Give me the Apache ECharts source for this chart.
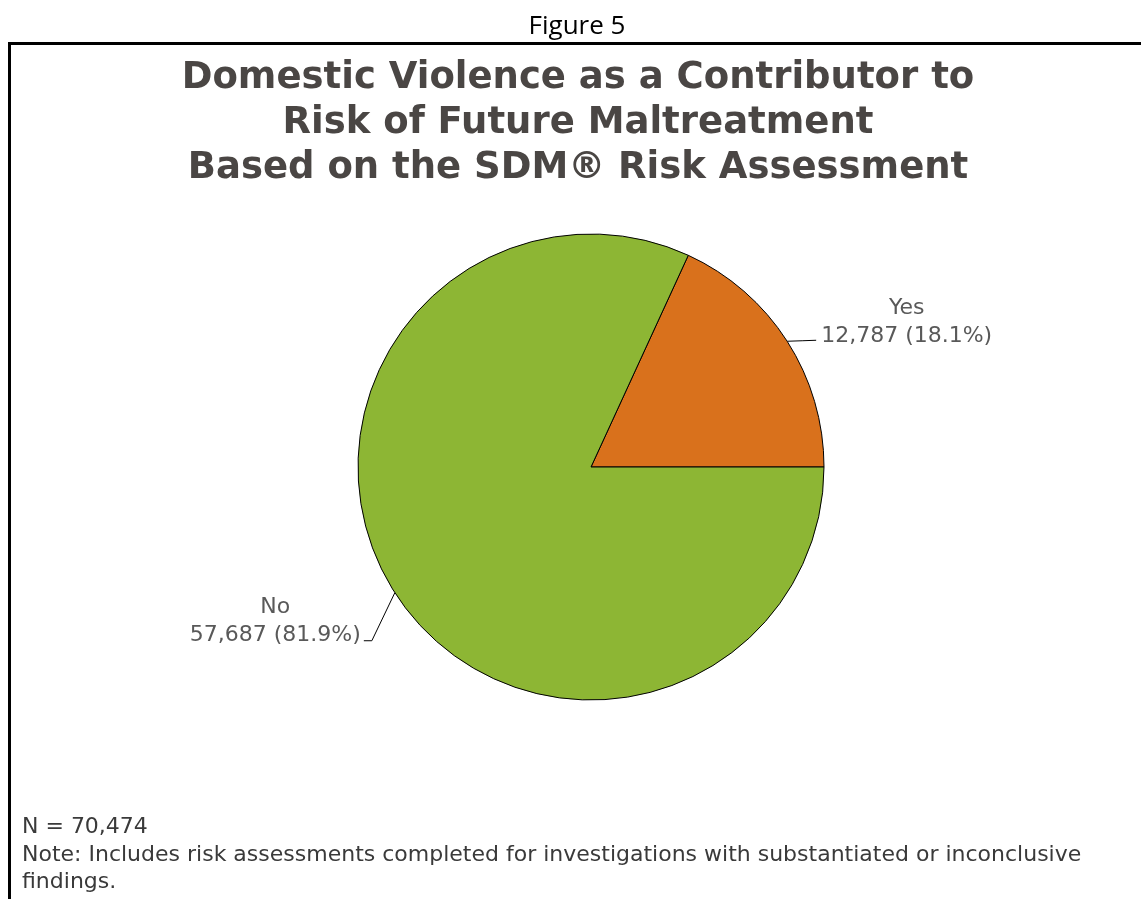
<!DOCTYPE html>
<html><head><meta charset="utf-8">
<script src="https://cdn.jsdelivr.net/npm/echarts@6/dist/echarts.min.js"></script>
<style>html,body{margin:0;padding:0;background:#fff}#c{width:1141px;height:899px}</style>
</head><body><div id="c"></div>
<script>
const categories = ['Yes', 'No'];
const counts = [12787, 57687];
const percents = ['18.1%', '81.9%'];
const colors = ['#D9711C', '#8DB634'];
const totalN = '70,474';

const FONT = "'DejaVu Sans', Verdana, sans-serif";
const chart = echarts.init(document.getElementById('c'), null, {renderer: 'canvas'});
const fmt = n => n.toLocaleString('en-US');

const data = categories.map((c, i) => ({
  name: c, value: counts[i], itemStyle: {color: colors[i]}
}));

chart.setOption({
  animation: false,
  backgroundColor: '#fff',
  title: [{
    text: 'Figure 5', left: 577, top: 14, textAlign: 'center', padding: 0,
    textStyle: {fontFamily: 'Open Sans', fontSize: 26, fontWeight: 'normal', color: '#000'}
  }, {
    text: 'Domestic Violence as a Contributor to\nRisk of Future Maltreatment\nBased on the SDM® Risk Assessment',
    left: 578, top: 56, textAlign: 'center', padding: 0,
    textStyle: {fontFamily: FONT, fontSize: 37, fontWeight: 'bold', color: '#4a4644', lineHeight: 45}
  }],
  graphic: [
    {type: 'line', shape: {x1: 8, y1: 43.5, x2: 1141, y2: 43.5}, style: {stroke: '#000', lineWidth: 3}},
    {type: 'line', shape: {x1: 9.5, y1: 42, x2: 9.5, y2: 899}, style: {stroke: '#000', lineWidth: 3}},
    {type: 'text', left: 22, top: 814, style: {
      text: 'N = ' + totalN + '\nNote: Includes risk assessments completed for investigations with substantiated or inconclusive\nfindings.',
      fontFamily: FONT, fontSize: 22, lineHeight: 27.5, fill: '#3a3a3a'
    }}
  ],
  series: [{
    type: 'pie',
    center: [591, 467],
    radius: 233,
    startAngle: 0,
    clockwise: false,
    data: data,
    itemStyle: {borderColor: '#000', borderWidth: 1},
    label: {
      show: true, position: 'outside',
      formatter: p => p.name + '\n' + fmt(p.value) + ' (' + percents[p.dataIndex] + ')',
      fontFamily: FONT, fontSize: 22, lineHeight: 28, color: '#595959',
      align: 'center'
    },
    labelLine: {show: true, lineStyle: {color: '#000', width: 1}},
    labelLayout: function (params) {
      const s = params.labelLinePoints[0];
      const w = params.labelRect.width;
      if (params.dataIndex === 0) {
        const e = [s[0] + 29, s[1] - 1];
        return {x: e[0] + 5 + w / 2, y: e[1] - 18, align: 'center', verticalAlign: 'middle',
          labelLinePoints: [s, [s[0] + 15, s[1] - 0.5], e]};
      } else {
        const m = [s[0] - 23, s[1] + 48];
        const e = [s[0] - 31, s[1] + 48];
        return {x: e[0] - 3 - w / 2, y: e[1] - 19, align: 'center', verticalAlign: 'middle',
          labelLinePoints: [s, m, e]};
      }
    }
  }]
});
</script></body></html>
